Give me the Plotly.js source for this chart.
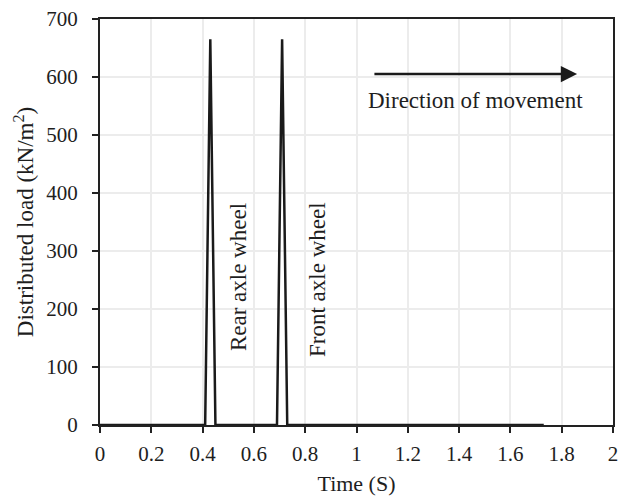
<!DOCTYPE html>
<html>
<head>
<meta charset="utf-8">
<script src="https://cdn.plot.ly/plotly-3.0.1.min.js"></script>
<style>html,body{margin:0;padding:0;background:#fff;}#chart{width:629px;height:498px;}</style>
</head>
<body>
<div id="chart"></div>
<script>
// Data
const time = [0, 0.41, 0.43, 0.45, 0.69, 0.71, 0.73, 1.73];
const load = [0, 0, 665, 0, 0, 665, 0, 0];
const xTicks = [0, 0.2, 0.4, 0.6, 0.8, 1, 1.2, 1.4, 1.6, 1.8, 2];
const xTickText = ['0', '0.2', '0.4', '0.6', '0.8', '1', '1.2', '1.4', '1.6', '1.8', '2'];
const yTicks = [0, 100, 200, 300, 400, 500, 600, 700];
const labels = ['Rear axle wheel', 'Front axle wheel', 'Direction of movement'];

const fam = 'Liberation Serif, Times New Roman, serif';
const ink = '#1e1e1e';

const trace = {
  x: time, y: load, type: 'scatter', mode: 'lines',
  line: {color: '#1a1a1a', width: 2.5},
  hoverinfo: 'skip'
};

const layout = {
  width: 629, height: 498,
  margin: {l: 100, r: 16, t: 19, b: 73},
  paper_bgcolor: '#fff', plot_bgcolor: '#fff',
  font: {family: fam, size: 21, color: ink},
  showlegend: false,
  xaxis: {
    range: [0, 2], tickvals: xTicks, ticktext: xTickText,
    showline: true, linecolor: '#222', linewidth: 2, mirror: true,
    ticks: 'outside', ticklen: 6, tickwidth: 2, tickcolor: '#222',
    showgrid: true, gridcolor: '#ececec', gridwidth: 2,
    zeroline: false, ticklabelstandoff: 3,
    tickfont: {family: fam, size: 21, color: ink},
    title: {text: 'Time (S)', font: {family: fam, size: 22, color: ink}, standoff: 10}
  },
  yaxis: {
    range: [0, 700], tickvals: yTicks,
    showline: true, linecolor: '#222', linewidth: 2, mirror: true,
    ticks: 'outside', ticklen: 6, tickwidth: 2, tickcolor: '#222',
    showgrid: true, gridcolor: '#ececec', gridwidth: 2,
    zeroline: false, ticklabelstandoff: 10,
    tickfont: {family: fam, size: 21, color: ink},
    title: {text: 'Distributed load (kN/m<sup>2</sup>)', font: {family: fam, size: 23, color: ink}, standoff: 6}
  },
  annotations: [
    {x: 0.538, y: 255, xref: 'x', yref: 'y', text: labels[0], showarrow: false, textangle: -90,
     font: {family: fam, size: 23, color: ink}},
    {x: 0.846, y: 250, xref: 'x', yref: 'y', text: labels[1], showarrow: false, textangle: -90,
     font: {family: fam, size: 23, color: ink}},
    {x: 1.464, y: 560, xref: 'x', yref: 'y', text: labels[2], showarrow: false,
     font: {family: fam, size: 23, color: ink}},
    {x: 1.86, y: 605, ax: 1.064, ay: 605, xref: 'x', yref: 'y', axref: 'x', ayref: 'y',
     text: '', showarrow: true, arrowhead: 2, arrowsize: 1.3, arrowwidth: 2.5, arrowcolor: '#1a1a1a'}
  ]
};

Plotly.newPlot('chart', [trace], layout, {displayModeBar: false, staticPlot: true});
</script>
</body>
</html>
